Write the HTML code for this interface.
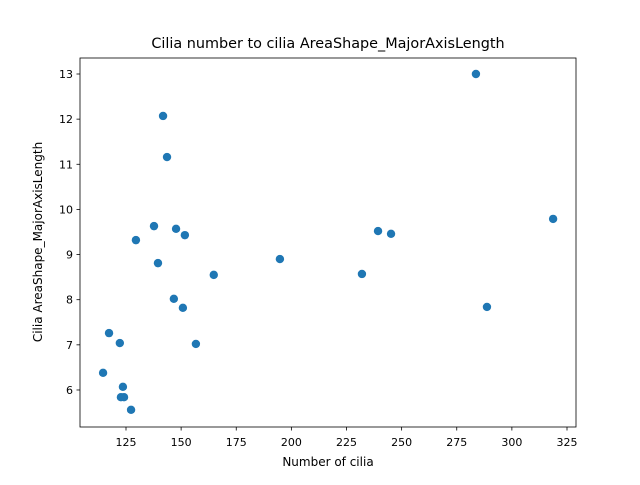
<!DOCTYPE html>
<html><head><meta charset="utf-8"><style>
body{margin:0;background:#fff;font-family:"Liberation Sans","DejaVu Sans",sans-serif}
svg text{font-family:"DejaVu Sans","Liberation Sans",sans-serif;fill:#000}
</style></head><body>
<svg id="chart" width="640" height="480">
<rect width="640" height="480" fill="#fff"/>
<text x="328" y="48" font-size="14.4" text-anchor="middle">Cilia number to cilia AreaShape_MajorAxisLength</text>
<g id="ticks"></g>
<g id="points"></g>
<rect x="80" y="58" width="496" height="369" fill="none" stroke="#000" stroke-width="0.8"/>
<text x="328" y="466" font-size="12" text-anchor="middle">Number of cilia</text>
<text transform="translate(42,242) rotate(-90)" font-size="12" text-anchor="middle">Cilia AreaShape_MajorAxisLength</text>
</svg>
<script>
const xValues=[114.6,117.3,122.2,123.6,122.7,124.1,127.3,129.5,137.7,139.5,141.8,143.6,146.7,147.7,150.8,151.7,156.7,164.8,194.8,232.0,239.3,245.2,283.7,288.7,318.7];
const yValues=[6.38,7.26,7.04,6.07,5.84,5.84,5.56,9.32,9.63,8.81,12.07,11.16,8.02,9.57,7.82,9.43,7.02,8.55,8.90,8.57,9.52,9.46,13.0,7.84,9.79];
const xTicks=[125,150,175,200,225,250,275,300,325];
const yTicks=[6,7,8,9,10,11,12,13];
const NS='http://www.w3.org/2000/svg';
function sx(v){return 126+(v-125)*2.205;}
function sy(v){return 74+(13-v)*45.14;}
const tg=document.getElementById('ticks');
xTicks.forEach(t=>{
  const l=document.createElementNS(NS,'line');
  l.setAttribute('x1',sx(t));l.setAttribute('x2',sx(t));l.setAttribute('y1',427);l.setAttribute('y2',430.5);
  l.setAttribute('stroke','#000');l.setAttribute('stroke-width','0.8');
  
  
  tg.appendChild(l);
  const tx=document.createElementNS(NS,'text');
  tx.setAttribute('x',sx(t));tx.setAttribute('y',446);tx.setAttribute('font-size','11');tx.setAttribute('text-anchor','middle');
  tx.textContent=t;
  
  
  tg.appendChild(tx);
});
yTicks.forEach(t=>{
  const l=document.createElementNS(NS,'line');
  l.setAttribute('x1',76.5);l.setAttribute('x2',80);l.setAttribute('y1',sy(t));l.setAttribute('y2',sy(t));
  l.setAttribute('stroke','#000');l.setAttribute('stroke-width','0.8');
  
  
  tg.appendChild(l);
  const tx=document.createElementNS(NS,'text');
  tx.setAttribute('x',73);tx.setAttribute('y',sy(t)+4);tx.setAttribute('font-size','11');tx.setAttribute('text-anchor','end');
  tx.textContent=t;
  
  
  tg.appendChild(tx);
});
const pg=document.getElementById('points');
xValues.forEach((x,i)=>{
  const c=document.createElementNS(NS,'circle');
  c.setAttribute('cx',sx(x));c.setAttribute('cy',sy(yValues[i]));c.setAttribute('r',4.2);c.setAttribute('fill','#1f77b4');
  
  
  pg.appendChild(c);
});
</script>
</body></html>
